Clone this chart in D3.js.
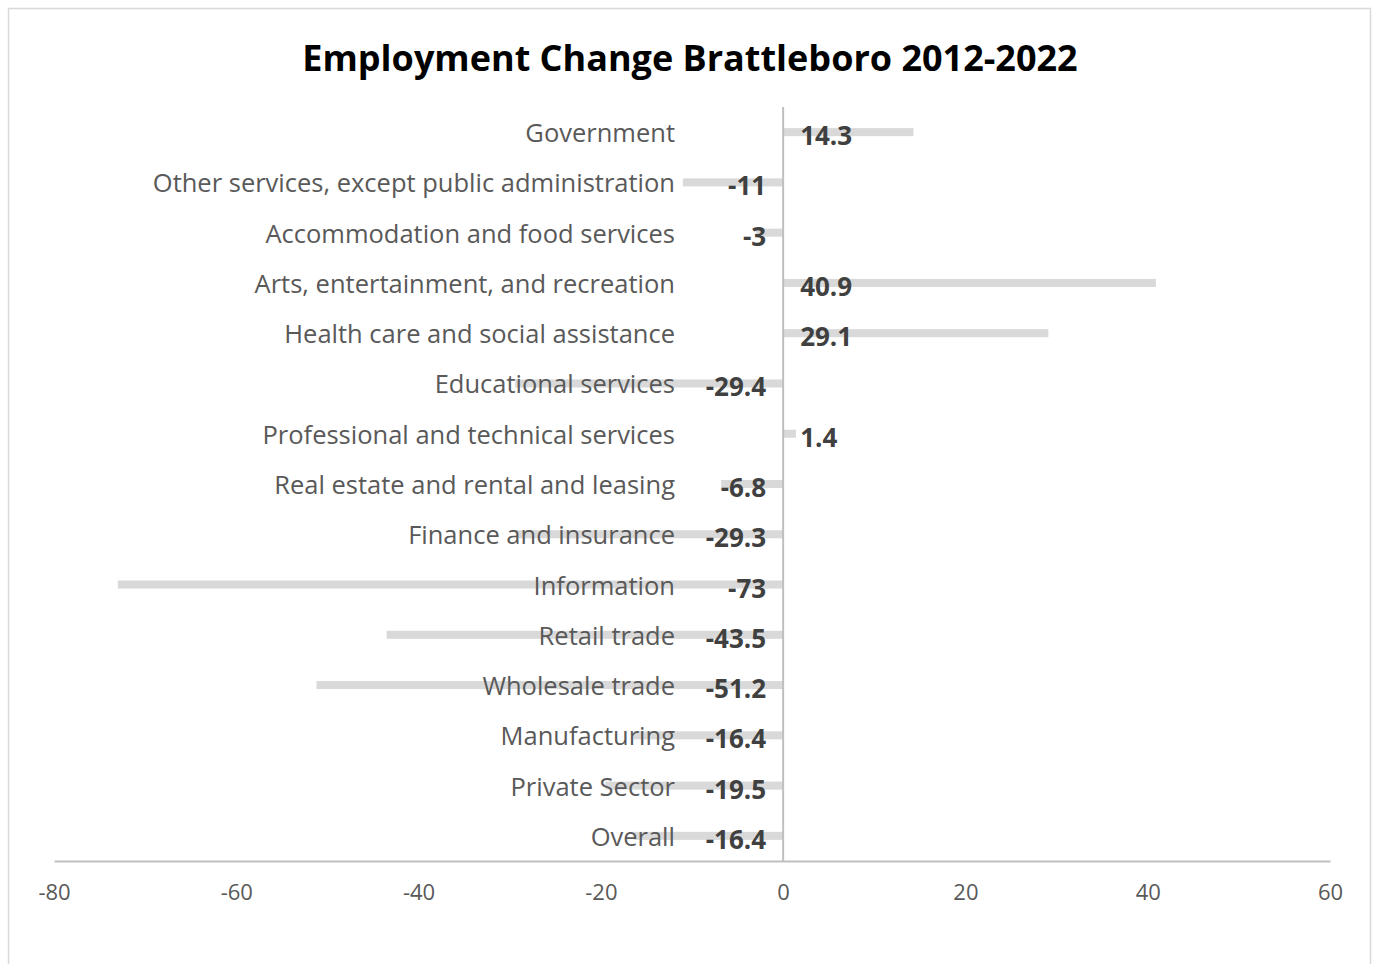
<!DOCTYPE html>
<html>
<head>
<meta charset="utf-8">
<script src="https://cdn.jsdelivr.net/npm/d3@7"></script>
<style>
  html, body { margin: 0; padding: 0; background: #fff; }
  svg { display: block; }
</style>
</head>
<body>
<svg id="chart" width="1376" height="964"></svg>
<script>
// Employment change by sector, Brattleboro, 2012-2022 (percent)
const categories = [
  "Government",
  "Other services, except public administration",
  "Accommodation and food services",
  "Arts, entertainment, and recreation",
  "Health care and social assistance",
  "Educational services",
  "Professional and technical services",
  "Real estate and rental and leasing",
  "Finance and insurance",
  "Information",
  "Retail trade",
  "Wholesale trade",
  "Manufacturing",
  "Private Sector",
  "Overall"
];
const values = [14.3, -11, -3, 40.9, 29.1, -29.4, 1.4, -6.8, -29.3, -73, -43.5, -51.2, -16.4, -19.5, -16.4];
const xTicks = [-80, -60, -40, -20, 0, 20, 40, 60];
const title = "Employment Change Brattleboro 2012-2022";

const svg = d3.select("#chart");
const font = "'Open Sans', 'Noto Sans', sans-serif";

// chart frame
svg.append("rect")
  .attr("x", 8.5).attr("y", 8.5)
  .attr("width", 1362).attr("height", 970)
  .attr("fill", "#fff")
  .attr("stroke", "#d9d9d9").attr("stroke-width", 1.5);

const plot = { left: 54, right: 1330, top: 107, bottom: 861 };

const x = d3.scaleLinear().domain([-80, 60]).range([plot.left, plot.right]);
const y = d3.scaleBand().domain(categories).range([plot.top, plot.bottom]).paddingInner(0.84).paddingOuter(0.42);

// title
svg.append("text")
  .attr("x", 690).attr("y", 57)
  .attr("text-anchor", "middle").attr("dominant-baseline", "central")
  .attr("font-family", font).attr("font-weight", "bold")
  .attr("font-size", 36).attr("fill", "#000")
  .text(title);

// bars
svg.append("g").selectAll("rect")
  .data(values)
  .join("rect")
  .attr("x", (d) => x(Math.min(0, d)))
  .attr("width", (d) => Math.abs(x(d) - x(0)))
  .attr("y", (d, i) => y(categories[i]))
  .attr("height", y.bandwidth())
  .attr("fill", "#d9d9d9");

// x axis (plain hyphen for negatives)
const xAxis = d3.axisBottom(x).tickValues(xTicks).tickSize(0).tickPadding(23)
  .tickFormat((d) => String(d));
const gx = svg.append("g").attr("transform", `translate(0,${plot.bottom})`).call(xAxis);
gx.select(".domain").attr("stroke", "#bfbfbf").attr("stroke-width", 2);
gx.selectAll("text")
  .attr("font-family", font).attr("font-size", 22).attr("fill", "#595959");

// zero line
svg.append("line")
  .attr("x1", x(0)).attr("x2", x(0))
  .attr("y1", plot.top).attr("y2", plot.bottom)
  .attr("stroke", "#bfbfbf").attr("stroke-width", 2);

// category labels
svg.append("g").selectAll("text")
  .data(categories)
  .join("text")
  .attr("x", 675)
  .attr("y", (d) => y(d) + y.bandwidth() / 2)
  .attr("text-anchor", "end").attr("dominant-baseline", "central")
  .attr("font-family", font).attr("font-size", 25.5).attr("fill", "#595959")
  .text((d) => d);

// value labels at the bar base
svg.append("g").selectAll("text")
  .data(values)
  .join("text")
  .attr("x", (d) => d >= 0 ? x(0) + 17 : x(0) - 17)
  .attr("y", (d, i) => y(categories[i]) + y.bandwidth() / 2 + 3)
  .attr("text-anchor", (d) => d >= 0 ? "start" : "end")
  .attr("dominant-baseline", "central")
  .attr("font-family", font).attr("font-weight", "bold")
  .attr("font-size", 26).attr("fill", "#404040")
  .text((d) => String(d));
</script>
</body>
</html>
